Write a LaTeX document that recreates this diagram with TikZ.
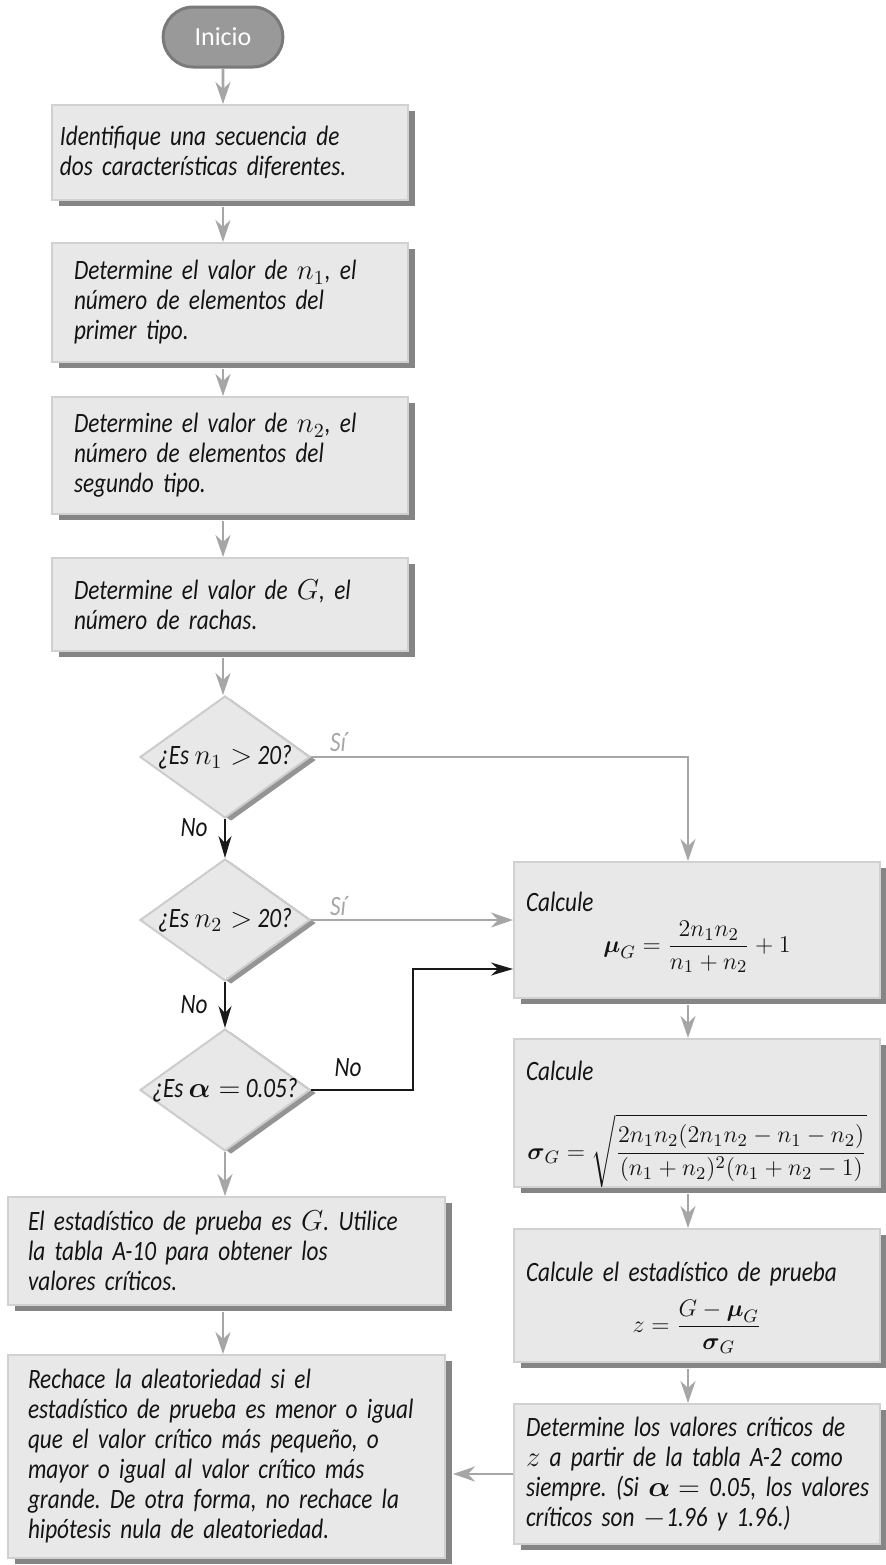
\documentclass[tikz,border=0pt]{standalone}
\usepackage{amsmath}
\usepackage{fontspec}
\setmainfont{Carlito}[FakeStretch=0.83]
\newfontfamily\startfont{Carlito}
\usetikzlibrary{arrows.meta,shapes.geometric,shapes.misc,shadows}
\frenchspacing

\begin{document}
\begin{tikzpicture}[
  x=.5pt, y=-.5pt,
  font=\itshape\fontsize{14}{15}\selectfont,
  >=Stealth,
  box/.style={draw=black!18, line width=1pt, fill=black!9, text=black!92,
    align=left, inner ysep=0pt,
    drop shadow={shadow xshift=3.5pt, shadow yshift=-3pt, opacity=1, fill=black!48}},
  lbox/.style={box, inner xsep=11pt, text width=156pt, minimum height=#1},
  wbox/.style={box, inner xsep=10pt, text width=198.5pt, minimum height=#1},
  rbox/.style={box, inner xsep=6pt, text width=171pt, minimum height=#1},
  diam/.style={diamond, minimum width=85pt, minimum height=61pt, inner sep=0pt,
    draw=black!20, line width=1pt, fill=black!9, text=black!92,
    drop shadow={shadow xshift=3pt, shadow yshift=-1.5pt, opacity=1, fill=black!42}},
  startstop/.style={rounded rectangle, minimum width=66.5pt, minimum height=30pt,
    fill=black!40, draw=black!52, line width=1.5pt, text=white,
    font=\startfont\fontsize{13}{15}\selectfont},
  flow/.style={black!35, line width=1.3pt, -{Stealth[length=11pt, width=7.5pt, inset=3.5pt]}},
  noflow/.style={black!90, line width=1pt, -{Stealth[length=11pt, width=6.5pt, inset=3.5pt]}},
  lbl/.style={inner sep=0pt, text=black!92},
  yes/.style={lbl, text=black!35}
]
\useasboundingbox (0,0) rectangle (886,1565);

\coordinate (lcol) at (223,0);
\coordinate (rcol) at (688,0);
\coordinate (nojoin) at (413,969);

% left column
\node[startstop] (start) at (223,37) {Inicio};
\node[lbox=47.5pt, inner xsep=4pt, text width=170pt] (ident) at (230,152.5)
  {Identifique una secuencia de\\dos características diferentes.};
\node[lbox=59.5pt] (nuno) at (230,302.5)
  {Determine el valor de $n_1$, el\\número de elementos del\\primer tipo.};
\node[lbox=58.5pt] (ndos) at (230,455.5)
  {Determine el valor de $n_2$, el\\número de elementos del\\segundo tipo.};
\node[lbox=46.5pt] (rachas) at (230,604.5)
  {Determine el valor de $G$, el\\número de rachas.};

\node[diam] (esn1) at (225,757) {\makebox[0pt]{¿Es $n_1 >$ 20?}};
\node[diam] (esn2) at (225,920) {\makebox[0pt]{¿Es $n_2 >$ 20?}};
\node[diam] (esalfa) at (225,1090) {\makebox[0pt]{¿Es $\boldsymbol{\alpha} =$ 0.05?}};

\node[wbox=54pt] (tabla) at (226.5,1251)
  {El estadístico de prueba es $G$. Utilice\\la tabla A-10 para obtener los\\valores críticos.};
\node[wbox=101.5pt] (rechace) at (226.5,1456.5)
  {Rechace la aleatoriedad si el\\\mbox{estadístico de prueba es menor o igual}\\que el valor crítico más pequeño, o\\mayor o igual al valor crítico más\\grande. De otra forma, no rechace la\\hipótesis nula de aleatoriedad.};

% right column
\node[rbox=68pt] (mug) at (697,930)
  {\rule{0pt}{12pt}Calcule\\[4pt]\hbox to\hsize{\hss\fontsize{12.5}{15}\selectfont$\displaystyle\boldsymbol{\mu}_G=\frac{2n_1n_2}{n_1+n_2}+1$\hss}};
\node[rbox=72pt] (sigmag) at (697,1113)
  {\rule{0pt}{21pt}Calcule\\[15.5pt]\hbox to\hsize{\hss\fontsize{12.5}{15}\selectfont$\displaystyle\boldsymbol{\sigma}_G=\sqrt{\frac{2n_1n_2(2n_1n_2-n_1-n_2)}{(n_1+n_2)^2(n_1+n_2-1)}}$\hss}};
\node[rbox=66.5pt] (zstat) at (697,1295.5)
  {\rule{0pt}{22pt}Calcule el estadístico de prueba\\[6pt]\hbox to\hsize{\hss\fontsize{12.5}{15}\selectfont$\displaystyle z=\frac{G-\boldsymbol{\mu}_G}{\boldsymbol{\sigma}_G}$\hss}};
\node[rbox=70pt] (critz) at (697,1474)
  {Determine los valores críticos de\\$z$ a partir de la tabla A-2 como\\\mbox{siempre. (Si $\boldsymbol{\alpha} =$ 0.05, los valores}\\críticos son $-$1.96 y 1.96.)};

% labels
\node[yes] (si1) at (338,742) {Sí};
\node[yes] (si2) at (338,906) {Sí};
\node[lbl] (no1) at (194,828) {No};
\node[lbl] (no2) at (194,1005) {No};
\node[lbl] (no3) at (348,1068) {No};

% connectors
\draw[flow] (start) -- (start |- ident.north);
\draw[flow, shorten <=3pt] (ident.south -| lcol) -- (nuno.north -| lcol);
\draw[flow, shorten <=3pt] (nuno.south -| lcol) -- (ndos.north -| lcol);
\draw[flow, shorten <=3pt] (ndos.south -| lcol) -- (rachas.north -| lcol);
\draw[flow, shorten <=3pt] (rachas.south -| lcol) -- (esn1.north -| lcol);
\draw[noflow] (esn1.south) -- (esn2.north);
\draw[noflow] (esn2.south) -- (esalfa.north);
\draw[flow] (esalfa.south) -- (esalfa.south |- tabla.north);
\draw[flow, shorten <=3pt] (tabla.south -| lcol) -- (rechace.north -| lcol);

\draw[flow] (esn1.east) -| (rcol |- mug.north);
\draw[flow] (esn2.east) -- (esn2.east -| mug.west);
\draw[noflow] (esalfa.east) -| (nojoin) -- (nojoin -| mug.west);
\draw[flow, shorten <=3pt] (mug.south -| rcol) -- (sigmag.north -| rcol);
\draw[flow, shorten <=3pt] (sigmag.south -| rcol) -- (zstat.north -| rcol);
\draw[flow, shorten <=3pt] (zstat.south -| rcol) -- (critz.north -| rcol);
\draw[flow, shorten >=3.5pt] (critz.west) -- (critz.west -| rechace.east);

\end{tikzpicture}
\end{document}
